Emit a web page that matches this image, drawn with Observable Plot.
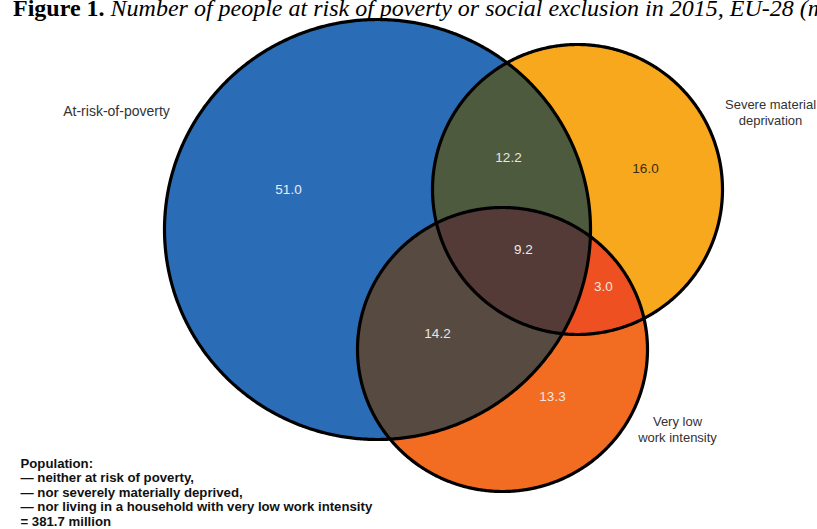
<!DOCTYPE html>
<html>
<head>
<meta charset="utf-8">
<script src="https://cdn.jsdelivr.net/npm/d3@7"></script>
<script src="https://cdn.jsdelivr.net/npm/@observablehq/plot@0.6"></script>
<style>
  html, body { margin: 0; padding: 0; background: #fff; overflow: hidden; }
  #wrap { position: relative; width: 817px; height: 529px; overflow: hidden; }
  #title { position: absolute; left: 13px; top: -4px; white-space: nowrap;
           font-family: "Liberation Serif", "Times New Roman", serif; font-size: 24px; line-height: 24px; color: #000; z-index: 2; }
  #title b { font-weight: bold; }
  #title i { font-style: italic; }
  #chart { position: absolute; left: 0; top: 0; }
</style>
</head>
<body>
<div id="wrap">
  <div id="chart"></div>
  <div id="title"><b>Figure 1.</b> <i>Number of people at risk of poverty or social exclusion in 2015, EU-28 (million)</i></div>
</div>
<script>
// ---- data ----
const setNames = ["At-risk-of-poverty", "Severe material\ndeprivation", "Very low\nwork intensity"];
const setKeys = ["A", "B", "C"];
const regionKeys = ["A", "B", "C", "AB", "AC", "BC", "ABC"];
const regionValues = [51.0, 16.0, 13.3, 12.2, 14.2, 3.0, 9.2];
const populationNote = [
  "Population:",
  "— neither at risk of poverty,",
  "— nor severely materially deprived,",
  "— nor living in a household with very low work intensity",
  "= 381.7 million"
];

// ---- layout (diagram geometry, in pixel units of the scales) ----
const circleLayout = [
  {key: "A", cx: 377, cy: 229, rx: 213, ry: 210},
  {key: "B", cx: 577, cy: 189, rx: 145, ry: 145},
  {key: "C", cx: 502, cy: 349, rx: 145, ry: 142}
];
const regionLabelPos = [[288, 189], [645, 168], [552, 396], [508, 157], [437, 333], [603, 286], [523, 249]];
const setLabelPos = [[116, 111], [770, 111], [677, 428]];
const regionColors = {A: "#2b6cb6", B: "#f8a81d", C: "#f26c22", AB: "#4e5a3e", AC: "#574a40", BC: "#ee5022", ABC: "#543b37"};
const labelColors = {A: "#e8edf5", B: "#3d2c12", C: "#f6e6dc", AB: "#e6e6e2", AC: "#e8e6e4", BC: "#f8e6dc", ABC: "#ecebea"};

// ---- geometry helpers ----
const N = 720;
function ellipsePoints(e) {
  const pts = [];
  for (let i = 0; i < N; i++) {
    const t = (i / N) * 2 * Math.PI;
    pts.push({x: e.cx + e.rx * Math.cos(t), y: e.cy + e.ry * Math.sin(t)});
  }
  return pts;
}
function inside(p, e) {
  return ((p.x - e.cx) / e.rx) ** 2 + ((p.y - e.cy) / e.ry) ** 2 <= 1.0000001;
}
const byKey = Object.fromEntries(circleLayout.map(c => [c.key, c]));
function regionPolygon(key) {
  const es = key.split("").map(k => byKey[k]);
  let pts = [];
  es.forEach((e, i) => {
    const others = es.filter((_, j) => j !== i);
    ellipsePoints(e).forEach(p => { if (others.every(o => inside(p, o))) pts.push(p); });
  });
  const mx = d3.mean(pts, p => p.x), my = d3.mean(pts, p => p.y);
  pts.sort((a, b) => Math.atan2(a.y - my, a.x - mx) - Math.atan2(b.y - my, b.x - mx));
  return pts;
}

const fillOrder = ["A", "B", "C", "AB", "AC", "BC", "ABC"];
const fillMarks = fillOrder.map(k =>
  Plot.line(regionPolygon(k), {x: "x", y: "y", fill: regionColors[k], stroke: "none", curve: "linear-closed"})
);
const outlineMarks = circleLayout.map(c =>
  Plot.line(ellipsePoints(c), {x: "x", y: "y", stroke: "#000", strokeWidth: 3.2, fill: "none", curve: "linear-closed"})
);

const regionLabels = regionKeys.map((k, i) => ({
  key: k, value: regionValues[i], x: regionLabelPos[i][0], y: regionLabelPos[i][1]
}));
const setLabels = setKeys.map((k, i) => ({
  key: k, name: setNames[i], x: setLabelPos[i][0], y: setLabelPos[i][1]
}));

const chart = Plot.plot({
  width: 817,
  height: 529,
  margin: 0,
  x: {domain: [0, 817], range: [0, 817], axis: null},
  y: {domain: [0, 529], range: [0, 529], axis: null},
  style: {background: "transparent", fontFamily: "'Liberation Sans', Arial, sans-serif"},
  marks: [
    ...fillMarks,
    ...outlineMarks,
    Plot.text(regionLabels, {
      x: "x", y: "y", text: d => d.value.toFixed(1),
      fill: d => labelColors[d.key], fontSize: 13.5
    }),
    Plot.text(setLabels.filter(d => d.key === "A"), {
      x: "x", y: "y", text: "name", textAnchor: "middle", fill: "#333", fontSize: 14
    }),
    Plot.text(setLabels.filter(d => d.key !== "A"), {
      x: "x", y: "y", text: "name", textAnchor: "middle", fill: "#333", fontSize: 13, lineHeight: 1.27
    }),
    Plot.text(populationNote, {
      x: () => 20, y: (d, i) => 463 + i * 14.5, text: d => d,
      textAnchor: "start", fill: "#111", fontSize: 13.2, fontWeight: "bold"
    })
  ]
});
document.getElementById("chart").appendChild(chart);
</script>
</body>
</html>
